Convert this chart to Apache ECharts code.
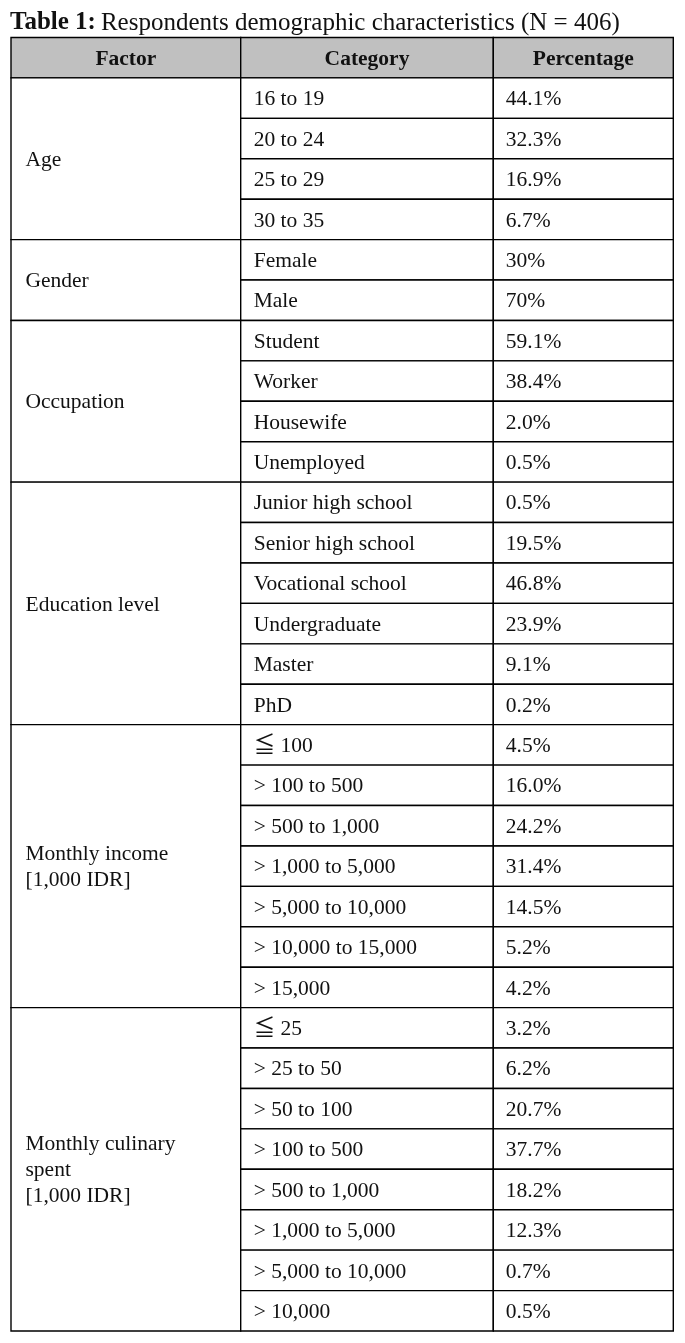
<!DOCTYPE html>
<html>
<head>
<meta charset="utf-8">
<style>
  html, body { margin: 0; padding: 0; background: #ffffff; }
  #chart { width: 685px; height: 1343px; }
</style>
<script src="https://cdn.jsdelivr.net/npm/echarts@6/dist/echarts.min.js"></script>
</head>
<body>
<div id="chart"></div>
<script>
// ---- Data ----
const titleBold = 'Table 1:';
const titleRest = 'Respondents demographic characteristics (N = 406)';
const headers = ['Factor', 'Category', 'Percentage'];

const factors = [
  'Age',
  'Gender',
  'Occupation',
  'Education level',
  'Monthly income\n[1,000 IDR]',
  'Monthly culinary\nspent\n[1,000 IDR]'
];

const ageCategories = ['16 to 19', '20 to 24', '25 to 29', '30 to 35'];
const agePercent = ['44.1%', '32.3%', '16.9%', '6.7%'];

const genderCategories = ['Female', 'Male'];
const genderPercent = ['30%', '70%'];

const occupationCategories = ['Student', 'Worker', 'Housewife', 'Unemployed'];
const occupationPercent = ['59.1%', '38.4%', '2.0%', '0.5%'];

const educationCategories = ['Junior high school', 'Senior high school', 'Vocational school', 'Undergraduate', 'Master', 'PhD'];
const educationPercent = ['0.5%', '19.5%', '46.8%', '23.9%', '9.1%', '0.2%'];

const incomeCategories = ['≦ 100', '> 100 to 500', '> 500 to 1,000', '> 1,000 to 5,000', '> 5,000 to 10,000', '> 10,000 to 15,000', '> 15,000'];
const incomePercent = ['4.5%', '16.0%', '24.2%', '31.4%', '14.5%', '5.2%', '4.2%'];

const culinaryCategories = ['≦ 25', '> 25 to 50', '> 50 to 100', '> 100 to 500', '> 500 to 1,000', '> 1,000 to 5,000', '> 5,000 to 10,000', '> 10,000'];
const culinaryPercent = ['3.2%', '6.2%', '20.7%', '37.7%', '18.2%', '12.3%', '0.7%', '0.5%'];

const groupCategories = [ageCategories, genderCategories, occupationCategories, educationCategories, incomeCategories, culinaryCategories];
const groupPercent = [agePercent, genderPercent, occupationPercent, educationPercent, incomePercent, culinaryPercent];

// ---- Layout (not data) ----
const colEdges = [0, 229.7, 482.3, 662.3];   // x-axis units
const colPad = [14.5, 13, 12.5];
const FONT = "'Times New Roman', 'Liberation Serif', 'Noto Sans CJK JP', serif";
const FS = 21.5;

// ---- Build cells ----
const cells = [];
headers.forEach((h, i) => cells.push({ col: i, row: 0, span: 1, text: h, header: true }));
let r = 1;
factors.forEach((f, gi) => {
  const cats = groupCategories[gi];
  const pcts = groupPercent[gi];
  cells.push({ col: 0, row: r, span: cats.length, text: f, header: false });
  cats.forEach((c, k) => {
    cells.push({ col: 1, row: r + k, span: 1, text: c, header: false });
    cells.push({ col: 2, row: r + k, span: 1, text: pcts[k], header: false });
  });
  r += cats.length;
});
const totalRows = r;

const chart = echarts.init(document.getElementById('chart'), null, { renderer: 'canvas' });

chart.setOption({
  animation: false,
  backgroundColor: '#ffffff',
  title: {
    text: '{b|' + titleBold + '} {r|' + titleRest + '}',
    left: 10,
    top: 8,
    padding: 0,
    textStyle: {
      rich: {
        b: { fontFamily: FONT, fontSize: 25, fontWeight: 'bold', color: '#111', lineHeight: 30 },
        r: { fontFamily: FONT, fontSize: 25, fontWeight: 'normal', color: '#111', lineHeight: 30 }
      }
    }
  },
  grid: { left: 11, top: 37.5, width: 662.3, height: 1293.5, containLabel: false },
  xAxis: { type: 'value', min: 0, max: colEdges[3], show: false },
  yAxis: { type: 'value', min: 0, max: totalRows, inverse: true, show: false },
  series: [{
    type: 'custom',
    coordinateSystem: 'cartesian2d',
    silent: true,
    data: cells.map(c => [c.col, c.row, c.span]),
    renderItem: function (params, api) {
      const cell = cells[params.dataIndex];
      const col = api.value(0), row = api.value(1), span = api.value(2);
      const p0 = api.coord([colEdges[col], row]);
      const p1 = api.coord([colEdges[col + 1], row + span]);
      const x = p0[0], y = p0[1], w = p1[0] - p0[0], h = p1[1] - p0[1];
      const tx = cell.header ? x + w / 2 : x + colPad[col];
      return {
        type: 'group',
        children: [
          {
            type: 'rect',
            shape: { x: x, y: y, width: w, height: h },
            style: { fill: cell.header ? '#c0c0c0' : '#ffffff', stroke: '#000', lineWidth: 1.4 }
          },
          {
            type: 'text',
            style: {
              x: tx,
              y: y + h / 2 + 1.5,
              text: cell.text,
              fill: '#111',
              font: (cell.header ? 'bold ' : '') + FS + 'px ' + FONT,
              align: cell.header ? 'center' : 'left',
              verticalAlign: 'middle',
              lineHeight: 26
            }
          }
        ]
      };
    }
  }]
});
</script>
</body>
</html>
